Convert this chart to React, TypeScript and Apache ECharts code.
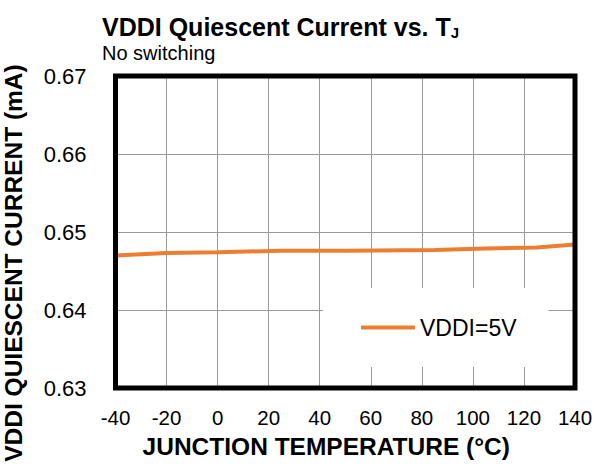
import React, { useEffect, useRef } from "react";
import * as echarts from "echarts";

const temperatures = [-40, -20, 0, 25, 50, 85, 105, 125, 140];
const vddiCurrent = [0.647, 0.6473, 0.6474, 0.6476, 0.6476, 0.6477, 0.6479, 0.648, 0.6484];
const seriesName = "VDDI=5V";
const xMin = -40;
const xMax = 140;
const xStep = 20;
const yMin = 0.63;
const yMax = 0.67;
const yStep = 0.01;

const FONT = "'Liberation Sans', Arial, sans-serif";

export default function App() {
  const ref = useRef<HTMLDivElement>(null);
  useEffect(() => {
    if (!ref.current) return;
    const chart = echarts.init(ref.current, undefined, { renderer: "svg" });
    const L = 115.5, T = 76, W = 459.5, H = 312;
    chart.setOption({
      animation: false,
      backgroundColor: "#fff",
      textStyle: { fontFamily: FONT, color: "#000" },
      title: [
        {
          text: "{a|VDDI Quiescent Current vs. T}{s|J}",
          left: 97,
          top: 8,
          textStyle: {
            rich: {
              a: { fontFamily: FONT, fontSize: 25, fontWeight: "bold", color: "#000", lineHeight: 27 },
              s: { fontFamily: FONT, fontSize: 15, fontWeight: "bold", color: "#000", lineHeight: 15, verticalAlign: "bottom" },
            },
          },
        },
        {
          text: "No switching",
          left: 97,
          top: 38,
          textStyle: { fontFamily: FONT, fontSize: 20, fontWeight: "normal", color: "#000" },
        },
      ],
      grid: { left: L, top: T, width: W, height: H, containLabel: false, outerBoundsMode: "none" },
      legend: {
        data: [{ name: seriesName, icon: "roundRect" }],
        left: 323,
        top: 288,
        padding: [28, 32, 28, 38],
        backgroundColor: "#fff",
        itemWidth: 54,
        itemHeight: 4,
        itemGap: 4,
        textStyle: { fontFamily: FONT, fontSize: 23, color: "#000", padding: [0, 0, 0, 0] },
      },
      xAxis: {
        type: "value",
        min: xMin,
        max: xMax,
        interval: xStep,
        name: "JUNCTION TEMPERATURE (°C)",
        nameLocation: "middle",
        nameGap: 46,
        nameTextStyle: { fontFamily: FONT, fontSize: 24.5, fontWeight: "bold", color: "#000", padding: [0, 38, 0, 0] },
        axisLine: { show: false },
        axisTick: { show: false },
        axisLabel: { fontFamily: FONT, fontSize: 20.5, color: "#000", margin: 19 },
        splitLine: { show: true, lineStyle: { color: "#999", width: 1 } },
      },
      yAxis: {
        type: "value",
        min: yMin,
        max: yMax,
        interval: yStep,
        name: "VDDI QUIESCENT CURRENT (mA)",
        nameLocation: "middle",
        nameRotate: 90,
        nameGap: 90,
        nameTextStyle: { fontFamily: FONT, fontSize: 24.5, fontWeight: "bold", color: "#000", padding: [0, 62, 0, 0] },
        axisLine: { show: false },
        axisTick: { show: false },
        axisLabel: {
          fontFamily: FONT,
          fontSize: 22,
          color: "#000",
          margin: 29,
          formatter: (v: number) => v.toFixed(2),
        },
        splitLine: { show: true, lineStyle: { color: "#999", width: 1 } },
      },
      series: [
        {
          name: seriesName,
          type: "line",
          data: temperatures.map((t, i) => [t, vddiCurrent[i]]),
          symbol: "none",
          lineStyle: { color: "#ED7D31", width: 4 },
          itemStyle: { color: "#ED7D31" },
          z: 3,
        },
      ],
      graphic: [
        {
          type: "rect",
          z: 100,
          silent: true,
          shape: { x: L, y: T, width: W, height: H },
          style: { fill: "none", stroke: "#000", lineWidth: 5 },
        },
      ],
    });
    return () => chart.dispose();
  }, []);
  return (
    <div
      ref={ref}
      style={{ position: "fixed", left: 0, top: 0, width: 598, height: 465, background: "#fff" }}
    />
  );
}
